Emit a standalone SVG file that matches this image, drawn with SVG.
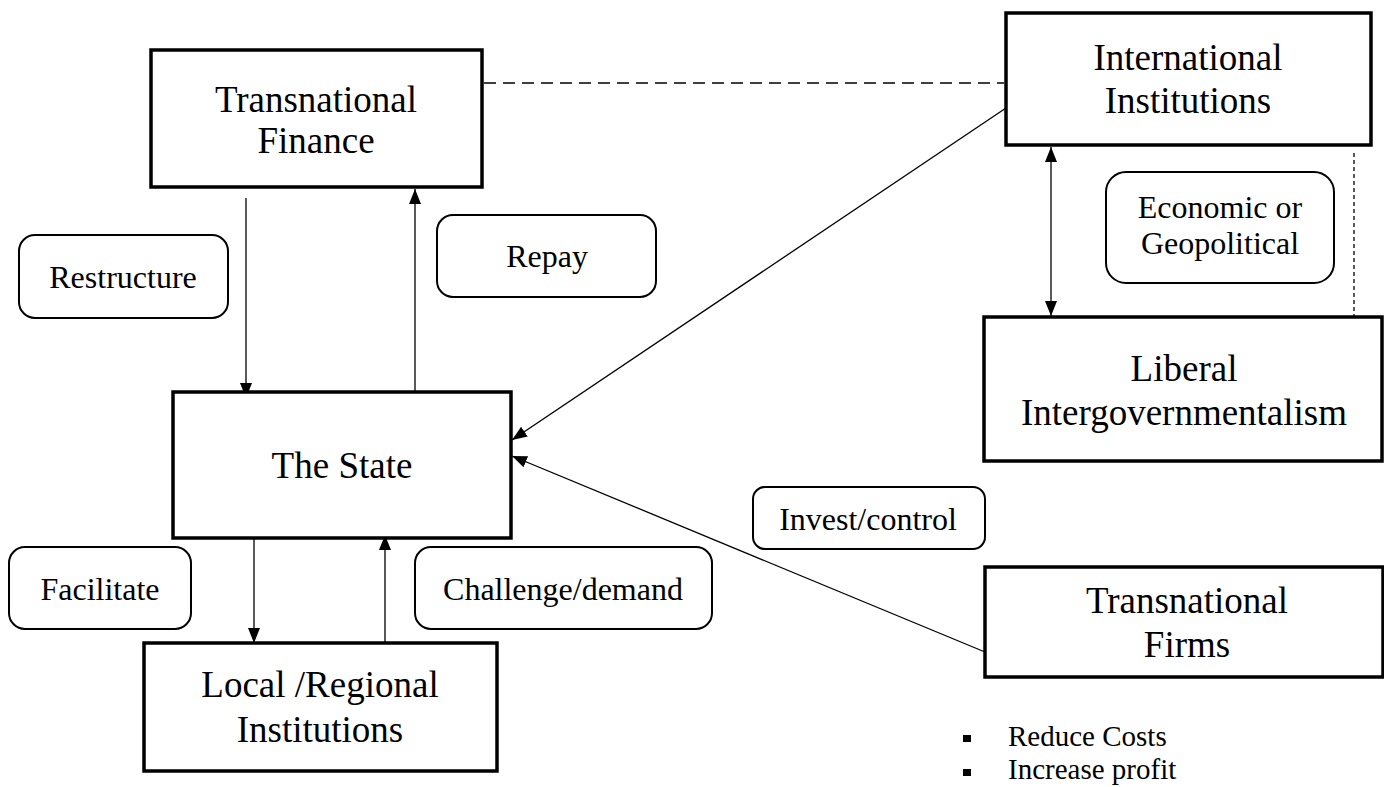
<svg xmlns="http://www.w3.org/2000/svg" width="1384" height="787" viewBox="0 0 1384 787">
<style>
.node{fill:#fff;stroke:#000;stroke-width:3.5}
.lbl{fill:#fff;stroke:#000;stroke-width:2}
.nt{font-family:"Liberation Serif","Times New Roman",serif;font-size:37px;text-anchor:middle;fill:#000}
.lt{font-family:"Liberation Serif","Times New Roman",serif;font-size:32px;text-anchor:middle;fill:#000}
.bt{font-family:"Liberation Serif","Times New Roman",serif;font-size:29px;fill:#000}
.c{stroke:#000;stroke-width:1.3;fill:none}
</style>
<defs>
<marker id="ah" markerUnits="userSpaceOnUse" markerWidth="16" markerHeight="14" refX="15" refY="7" orient="auto-start-reverse">
<path d="M0,1 L15,7 L0,13 Z" fill="#000"/>
</marker>
</defs>
<rect width="1384" height="787" fill="#fff"/>
<g id="connectors">
<line class="c" x1="484" y1="83" x2="1004" y2="83" stroke-width="2.2" stroke-dasharray="12,7"/>
<line class="c" x1="1354" y1="153" x2="1354" y2="327" stroke-width="1.2" stroke-dasharray="4,3"/>
<line class="c" x1="1051" y1="147" x2="1051" y2="316" marker-start="url(#ah)" marker-end="url(#ah)"/>
<line class="c" x1="246" y1="198" x2="246" y2="398" marker-end="url(#ah)"/>
<line class="c" x1="415" y1="391" x2="415" y2="189" marker-end="url(#ah)"/>
<line class="c" x1="1006" y1="108" x2="512" y2="440" marker-end="url(#ah)"/>
<line class="c" x1="985" y1="652" x2="512" y2="456" marker-end="url(#ah)"/>
<line class="c" x1="254" y1="534" x2="254" y2="643" marker-end="url(#ah)"/>
<line class="c" x1="385" y1="649" x2="385" y2="535" marker-end="url(#ah)"/>
</g>
<g id="transnational-finance">
<rect class="node" x="151" y="50" width="331" height="137"/>
<text class="nt" x="316" y="112">Transnational</text>
<text class="nt" x="316" y="153">Finance</text>
</g>
<g id="international-institutions">
<rect class="node" x="1006" y="13" width="365" height="132"/>
<text class="nt" x="1188" y="70">International</text>
<text class="nt" x="1188" y="113">Institutions</text>
</g>
<g id="economic-geopolitical">
<rect class="lbl" x="1106" y="172" width="228" height="111" rx="20"/>
<text class="lt" x="1220" y="218">Economic or</text>
<text class="lt" x="1220" y="254">Geopolitical</text>
</g>
<g id="liberal-intergovernmentalism">
<rect class="node" x="984" y="317" width="398" height="144"/>
<text class="nt" x="1184" y="381">Liberal</text>
<text class="nt" x="1184" y="425">Intergovernmentalism</text>
</g>
<g id="restructure">
<rect class="lbl" x="19" y="235" width="209" height="83" rx="16"/>
<text class="lt" x="123" y="288">Restructure</text>
</g>
<g id="repay">
<rect class="lbl" x="437" y="215" width="219" height="82" rx="16"/>
<text class="lt" x="547" y="267">Repay</text>
</g>
<g id="the-state">
<rect class="node" x="173" y="392" width="338" height="146"/>
<text class="nt" x="342" y="478">The State</text>
</g>
<g id="invest-control">
<rect class="lbl" x="753" y="487" width="232" height="62" rx="12"/>
<text class="lt" x="868" y="530">Invest/control</text>
</g>
<g id="facilitate">
<rect class="lbl" x="9" y="547" width="182" height="82" rx="16"/>
<text class="lt" x="100" y="600">Facilitate</text>
</g>
<g id="challenge-demand">
<rect class="lbl" x="415" y="547" width="297" height="82" rx="16"/>
<text class="lt" x="563" y="600">Challenge/demand</text>
</g>
<g id="local-regional-institutions">
<rect class="node" x="144" y="643" width="353" height="128"/>
<text class="nt" x="320" y="697">Local /Regional</text>
<text class="nt" x="320" y="742">Institutions</text>
</g>
<g id="transnational-firms">
<rect class="node" x="985" y="567" width="398" height="110"/>
<text class="nt" x="1187" y="613">Transnational</text>
<text class="nt" x="1187" y="657">Firms</text>
</g>
<g id="firm-goals">
<rect x="963" y="735" width="8" height="7" fill="#000"/>
<text class="bt" x="1008" y="746">Reduce Costs</text>
<rect x="963" y="769" width="8" height="7" fill="#000"/>
<text class="bt" x="1008" y="779">Increase profit</text>
</g>
</svg>
